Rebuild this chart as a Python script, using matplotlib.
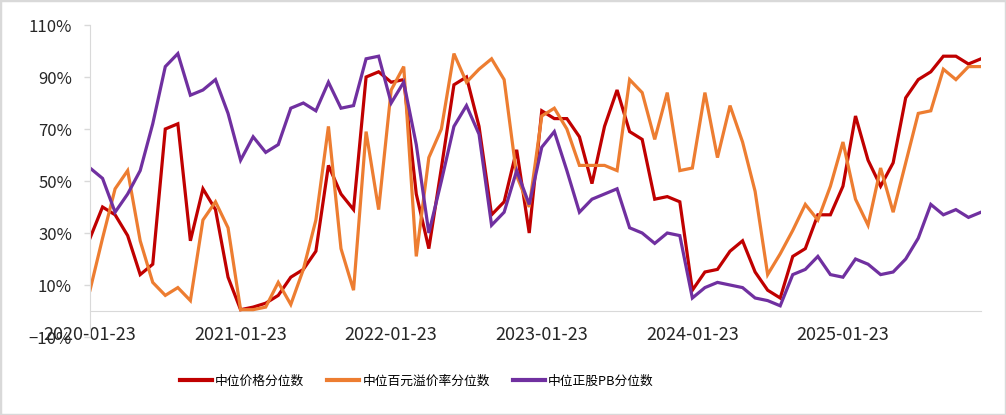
import matplotlib
matplotlib.use("Agg")
import matplotlib.pyplot as plt
from matplotlib.ticker import PercentFormatter, FixedLocator
from matplotlib.patches import Rectangle

plt.rcParams['font.family'] = ['Noto Sans CJK SC', 'DejaVu Sans']

# monthly observation dates, 2020-01 .. 2025-12
dates = ["%d-%02d-23" % (2020 + m // 12, m % 12 + 1) for m in range(72)]

price_pct = [28, 40, 37, 29, 14, 18, 70, 72, 27, 47, 39, 13, 0.5, 1.5, 3,
             6, 13, 16, 23, 56, 45, 39, 90, 92, 88, 89, 45, 24, 55, 87,
             90, 71, 37, 42, 62, 30, 77, 74, 74, 67, 49, 71, 85, 69, 66,
             43, 44, 42, 8, 15, 16, 23, 27, 15, 8, 5, 21, 24, 37, 37,
             48, 75, 58, 48, 57, 82, 89, 92, 98, 98, 95, 97]

premium_pct = [8, 28, 47, 54, 27, 11, 6, 9, 4, 35, 42, 32, 0.5, 0.5, 1.5,
               11, 2.5, 16, 35, 71, 24, 8, 69, 39, 85, 94, 21, 59, 70, 99,
               88, 93, 97, 89, 52, 40, 75, 78, 70, 56, 56, 56, 54, 89, 84,
               66, 84, 54, 55, 84, 59, 79, 65, 46, 14, 22, 31, 41, 35, 48,
               65, 43, 33, 55, 38, 57, 76, 77, 93, 89, 94, 94]

pb_pct = [55, 51, 38, 45, 54, 72, 94, 99, 83, 85, 89, 76, 58, 67, 61,
          64, 78, 80, 77, 88, 78, 79, 97, 98, 80, 88, 64, 30, 50, 71,
          79, 68, 33, 38, 54, 41, 63, 69, 54, 38, 43, 45, 47, 32, 30,
          26, 30, 29, 5, 9, 11, 10, 9, 5, 4, 2, 14, 16, 21, 14,
          13, 20, 18, 14, 15, 20, 28, 41, 37, 39, 36, 38]

names = ["中位价格分位数", "中位百元溢价率分位数", "中位正股PB分位数"]
colors = ["#C00000", "#ED7D31", "#7030A0"]

fig = plt.figure(figsize=(10.06, 4.15), dpi=100)
ax = fig.add_axes([90 / 1006, 1 - 337 / 415, 891 / 1006, 312 / 415])

x = list(range(len(dates)))
for vals, name, c in zip([price_pct, premium_pct, pb_pct], names, colors):
    ax.plot(x, vals, color=c, lw=2.3, label=name, solid_joinstyle='miter')

ax.set_xlim(0, 71)
ax.set_ylim(-10, 110)
ax.yaxis.set_major_locator(FixedLocator([-10, 10, 30, 50, 70, 90, 110]))
ax.yaxis.set_major_formatter(PercentFormatter(100, decimals=0))
ax.set_xticks(x[::12])
ax.set_xticklabels(dates[::12])

for s in ['top', 'right']:
    ax.spines[s].set_visible(False)
ax.spines['left'].set_color('#D9D9D9')
ax.spines['bottom'].set_color('#D9D9D9')
ax.spines['bottom'].set_position(('data', 0))
ax.spines['bottom'].set_zorder(0)

ax.tick_params(axis='y', length=4.5, width=1, color='#D9D9D9', pad=8.5,
               labelsize=12, labelcolor='#262626')
ax.tick_params(axis='x', length=0, pad=11, labelsize=13, labelcolor='#262626')

fig.legend(loc='center left', bbox_to_anchor=(180 / 1006, 1 - 381 / 415),
           ncol=3, frameon=False, fontsize=9.2, borderpad=0, borderaxespad=0,
           handlelength=2.5, handletextpad=0.25, columnspacing=1.8)
leg = fig.legends[0]
for line in leg.get_lines():
    line.set_linewidth(3)

fig.patches.append(Rectangle((0, 0), 1, 1, transform=fig.transFigure,
                             fill=False, edgecolor='#D9D9D9', lw=2.5))

fig.savefig("out.png", dpi=100)
